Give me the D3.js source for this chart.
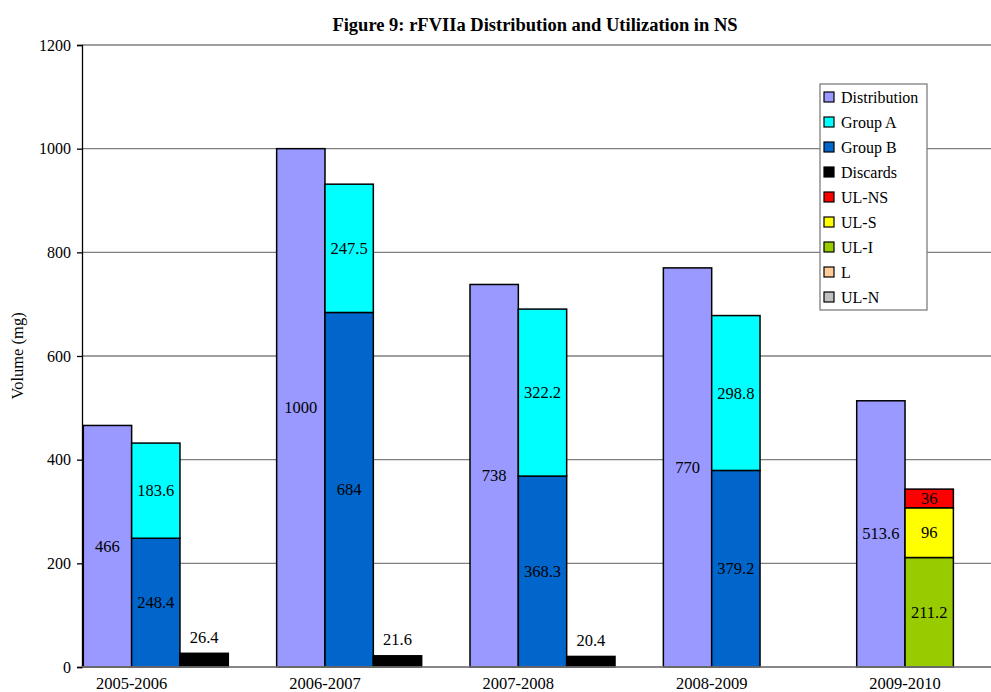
<!DOCTYPE html>
<html>
<head>
<meta charset="utf-8">
<script src="https://cdn.jsdelivr.net/npm/d3@7"></script>
<style>
  html, body { margin: 0; padding: 0; background: #fff; }
  svg { display: block; }
  svg text { font-family: "Liberation Serif", "Times New Roman", serif; fill: #000; }
</style>
</head>
<body>
<svg id="chart" width="991" height="692"></svg>
<script>
// Fiscal years on the category axis
const categories = ["2005-2006", "2006-2007", "2007-2008", "2008-2009", "2009-2010"];

// Volumes (mg) per series
const distribution = [466, 1000, 738, 770, 513.6];
const groupA = [183.6, 247.5, 322.2, 298.8, 0];
const groupB = [248.4, 684, 368.3, 379.2, 0];
const discards = [26.4, 21.6, 20.4, 0, 0];
const ulNS = [0, 0, 0, 0, 36];
const ulS = [0, 0, 0, 0, 96];
const ulI = [0, 0, 0, 0, 211.2];
const lSeries = [0, 0, 0, 0, 0];
const ulN = [0, 0, 0, 0, 0];

const yTicks = [0, 200, 400, 600, 800, 1000, 1200];

const seriesNames = ["Distribution", "Group A", "Group B", "Discards", "UL-NS", "UL-S", "UL-I", "L", "UL-N"];
const seriesColors = ["#9999FF", "#00FFFF", "#0066CC", "#000000", "#FF0000", "#FFFF00", "#99CC00", "#FFCC99", "#C0C0C0"];
const colorOf = d3.scaleOrdinal().domain(seriesNames).range(seriesColors);

// Utilization stack: Group B at the bottom, then Group A; UL series stack I -> S -> NS
const stackOrder = [
  ["Group B", groupB], ["Group A", groupA],
  ["UL-I", ulI], ["UL-S", ulS], ["UL-NS", ulNS], ["L", lSeries], ["UL-N", ulN]
];

const FONT = "'Liberation Serif', 'Times New Roman', serif";
const svg = d3.select("#chart");
const plotLeft = 82, plotTop = 45, plotBottom = 667, plotRight = 991;
const step = 193.35;

const x = d3.scaleBand().domain(categories)
  .range([83.3, 83.3 + step * categories.length]).padding(0);
const slot = d3.scaleBand().domain(["dist", "util", "disc", "gap"])
  .range([0, x.bandwidth()]).padding(0);
const y = d3.scaleLinear().domain([0, 1200]).range([plotBottom, plotTop]);

// Gridlines
svg.append("g").selectAll("line").data(yTicks).join("line")
  .attr("x1", plotLeft).attr("x2", plotRight)
  .attr("y1", d => y(d)).attr("y2", d => y(d))
  .attr("stroke", "#7f7f7f").attr("stroke-width", 1.3);

// Y axis
const yAxis = d3.axisLeft(y).tickValues(yTicks).tickSize(5).tickPadding(6).tickFormat(d3.format("d"));
const gy = svg.append("g").attr("transform", `translate(${plotLeft},0)`).call(yAxis)
  .attr("font-family", FONT).attr("font-size", 16);
gy.select(".domain").attr("stroke", "#000").attr("stroke-width", 1.3);
gy.selectAll(".tick line").attr("stroke", "#000").attr("stroke-width", 1.3);
gy.selectAll(".tick text").attr("font-size", 16).attr("fill", "#000");

// Y axis title
svg.append("text")
  .attr("transform", `translate(23,${(plotTop + plotBottom) / 2}) rotate(-90)`)
  .attr("text-anchor", "middle").attr("font-size", 16.5).text("Volume (mg)");

// Category labels, centred at the left edge of the utilization bar
svg.append("g").selectAll("text").data(categories).join("text")
  .attr("x", d => x(d) + slot("util"))
  .attr("y", 689).attr("text-anchor", "middle").attr("font-size", 16.5).text(d => d);

const barStroke = "#000", barStrokeW = 1.5;
const label = (sel) => sel.attr("text-anchor", "middle").attr("dominant-baseline", "central")
  .attr("font-size", 16.5).attr("fill", "#000");

// Distribution bars
const gDist = svg.append("g");
gDist.selectAll("rect").data(categories).join("rect")
  .attr("x", d => x(d) + slot("dist")).attr("width", slot.bandwidth())
  .attr("y", (d, i) => y(distribution[i])).attr("height", (d, i) => y(0) - y(distribution[i]))
  .attr("fill", colorOf("Distribution")).attr("stroke", barStroke).attr("stroke-width", barStrokeW);
gDist.selectAll("text").data(categories).join("text")
  .attr("x", d => x(d) + slot("dist") + slot.bandwidth() / 2)
  .attr("y", (d, i) => y(distribution[i] / 2))
  .call(label).text((d, i) => distribution[i]);

// Stacked utilization bars
const segments = [];
categories.forEach((c, i) => {
  let base = 0;
  stackOrder.forEach(([name, arr]) => {
    const v = arr[i];
    if (v > 0) {
      segments.push({ cat: c, name, v, y0: base, y1: base + v });
      base += v;
    }
  });
});
const gUtil = svg.append("g");
gUtil.selectAll("rect").data(segments).join("rect")
  .attr("x", d => x(d.cat) + slot("util")).attr("width", slot.bandwidth())
  .attr("y", d => y(d.y1)).attr("height", d => y(d.y0) - y(d.y1))
  .attr("fill", d => colorOf(d.name)).attr("stroke", barStroke).attr("stroke-width", barStrokeW);
gUtil.selectAll("text").data(segments).join("text")
  .attr("x", d => x(d.cat) + slot("util") + slot.bandwidth() / 2)
  .attr("y", d => y((d.y0 + d.y1) / 2))
  .call(label).text(d => d.v);

// Discards bars with value above
const discData = categories.map((c, i) => ({ cat: c, v: discards[i] })).filter(d => d.v > 0);
const gDisc = svg.append("g");
gDisc.selectAll("rect").data(discData).join("rect")
  .attr("x", d => x(d.cat) + slot("disc")).attr("width", slot.bandwidth())
  .attr("y", d => y(d.v)).attr("height", d => y(0) - y(d.v))
  .attr("fill", colorOf("Discards")).attr("stroke", barStroke).attr("stroke-width", barStrokeW);
gDisc.selectAll("text").data(discData).join("text")
  .attr("x", d => x(d.cat) + slot("disc") + slot.bandwidth() / 2)
  .attr("y", d => y(d.v) - 16)
  .call(label).text(d => d.v);

// Category axis line
svg.append("line").attr("x1", plotLeft).attr("x2", plotRight)
  .attr("y1", plotBottom).attr("y2", plotBottom)
  .attr("stroke", "#7f7f7f").attr("stroke-width", 1.3);

// Title
svg.append("text").attr("x", 535).attr("y", 31).attr("text-anchor", "middle")
  .attr("font-size", 18.5).attr("font-weight", "bold").text("Figure 9: rFVIIa Distribution and Utilization in NS");

// Legend
const lg = svg.append("g").attr("transform", "translate(820,84)");
lg.append("rect").attr("width", 107).attr("height", 226)
  .attr("fill", "#fff").attr("stroke", "#7f7f7f").attr("stroke-width", 1.3);
const items = lg.selectAll("g").data(seriesNames).join("g")
  .attr("transform", (d, i) => `translate(0,${13 + i * 25})`);
items.append("rect").attr("x", 4).attr("y", -5).attr("width", 10).attr("height", 10)
  .attr("fill", d => colorOf(d)).attr("stroke", "#000").attr("stroke-width", 1.2);
items.append("text").attr("x", 21).attr("y", 0).attr("dominant-baseline", "central")
  .attr("font-size", 16).text(d => d);
</script>
</body>
</html>
